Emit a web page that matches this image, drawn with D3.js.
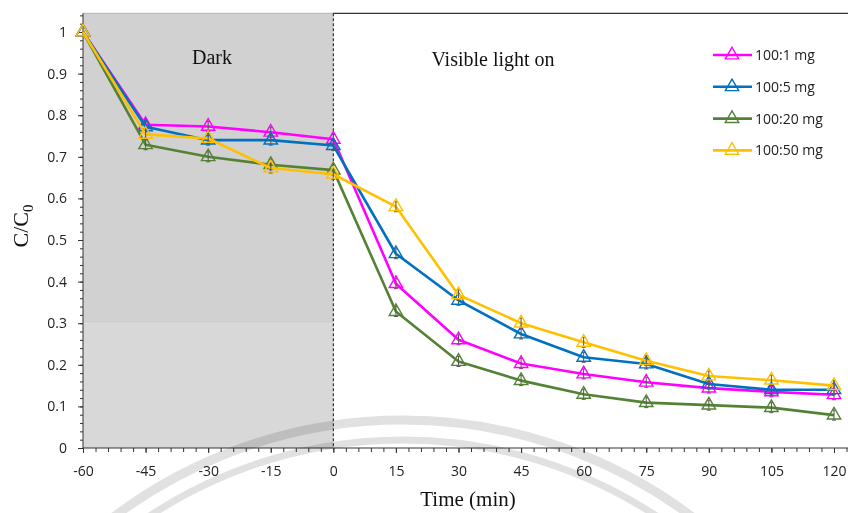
<!DOCTYPE html>
<html>
<head>
<meta charset="utf-8">
<title>C/C0 vs time</title>
<style>
	body { margin: 0; background: #fff; }
	svg { display: block; }
</style>
</head>
<body>
<script src="https://cdnjs.cloudflare.com/ajax/libs/d3/7.8.5/d3.min.js"></script>
<script>
// data
var times = [-60, -45, -30, -15, 0, 15, 30, 45, 60, 75, 90, 105, 120];
var seriesNames = ["100:1 mg", "100:5 mg", "100:20 mg", "100:50 mg"];
var seriesColors = ["#ff00ff", "#0070c0", "#548235", "#ffc000"];
var ratio1 = [1, 0.777, 0.773, 0.759, 0.742, 0.395, 0.260, 0.203, 0.178, 0.158, 0.144, 0.135, 0.128];
var ratio5 = [1, 0.772, 0.740, 0.740, 0.727, 0.467, 0.355, 0.274, 0.218, 0.202, 0.154, 0.140, 0.140];
var ratio20 = [1, 0.729, 0.700, 0.681, 0.668, 0.328, 0.208, 0.162, 0.129, 0.109, 0.103, 0.097, 0.079];
var ratio50 = [1, 0.754, 0.744, 0.673, 0.658, 0.580, 0.368, 0.300, 0.254, 0.210, 0.173, 0.163, 0.150];
var errBars = [0, 0.012, 0.012, 0.012, 0.012, 0.012, 0.012, 0.012, 0.012, 0.012, 0.012, 0.012, 0.012];
var xTicks = [-60, -45, -30, -15, 0, 15, 30, 45, 60, 75, 90, 105, 120];
var yTicks = [0, 0.1, 0.2, 0.3, 0.4, 0.5, 0.6, 0.7, 0.8, 0.9, 1];

var allSeries = [ratio1, ratio5, ratio20, ratio50];

var W = 848, H = 513;
var svg = d3.select("body").append("svg")
	.attr("width", W)
	.attr("height", H);

var x = d3.scaleLinear().domain([-60, 120]).range([83, 834]);
var y = d3.scaleLinear().domain([0, 1]).range([448, 32]);
var plotTop = y(1.045);
var plotBottom = y(0);

// dark period shading (scan makes the lower part slightly lighter)
svg.append("rect")
	.attr("x", x(-60)).attr("y", plotTop)
	.attr("width", x(0) - x(-60)).attr("height", y(0.3) - plotTop)
	.style("fill", "#d1d1d1");
svg.append("rect")
	.attr("x", x(-60)).attr("y", y(0.3))
	.attr("width", x(0) - x(-60)).attr("height", plotBottom - y(0.3))
	.style("fill", "#d8d8d8");

// top border
svg.append("line")
	.attr("x1", x(-60)).attr("x2", x(0))
	.attr("y1", plotTop).attr("y2", plotTop)
	.style("stroke", "#bcbcbc").style("stroke-width", "1.2px");
svg.append("line")
	.attr("x1", x(0)).attr("x2", W)
	.attr("y1", plotTop).attr("y2", plotTop)
	.style("stroke", "#333").style("stroke-width", "1.2px");

// y axis
var yMinor = svg.append("g")
	.attr("transform", "translate(" + x(-60) + ",0)")
	.call(d3.axisLeft(y).tickValues(d3.range(0, 1.041, 0.02)).tickSize(3).tickFormat(""));
var yAxis = svg.append("g")
	.attr("transform", "translate(" + x(-60) + ",0)")
	.call(d3.axisLeft(y).tickValues(yTicks).tickSize(5).tickPadding(11)
		.tickFormat(function(d){ return String(+d.toFixed(1)); }));

// x axis
var xMinor = svg.append("g")
	.attr("transform", "translate(0," + plotBottom + ")")
	.call(d3.axisBottom(x).tickValues(d3.range(-60, 124, 3)).tickSize(4).tickFormat(""));
var xAxis = svg.append("g")
	.attr("transform", "translate(0," + plotBottom + ")")
	.call(d3.axisBottom(x).tickValues(xTicks).tickSize(5).tickPadding(13)
		.tickFormat(function(d){ return String(d); }));

[yMinor, yAxis, xMinor, xAxis].forEach(function(g){
	g.select(".domain").remove();
	g.selectAll(".tick line").style("stroke", "#333");
	g.selectAll("text")
		.style("font-family", "'Open Sans', sans-serif")
		.style("font-size", "14px")
		.style("fill", "#222");
});

svg.append("line")
	.attr("x1", x(-60)).attr("x2", x(-60))
	.attr("y1", plotTop).attr("y2", plotBottom)
	.style("stroke", "#333").style("stroke-width", "1px");
svg.append("line")
	.attr("x1", x(-60)).attr("x2", W)
	.attr("y1", plotBottom).attr("y2", plotBottom)
	.style("stroke", "#333").style("stroke-width", "1px");

// light-on marker
svg.append("line")
	.attr("x1", x(0)).attr("x2", x(0))
	.attr("y1", plotTop).attr("y2", plotBottom)
	.style("stroke", "#111").style("stroke-width", "1px")
	.style("stroke-dasharray", "3,2");

// series
var line = d3.line()
	.x(function(d, i){ return x(times[i]); })
	.y(function(d){ return y(d); });
var tri = d3.symbol().type(d3.symbolTriangle).size(78);

allSeries.forEach(function(vals, s){
	var col = seriesColors[s];
	var g = svg.append("g");
	g.append("path")
		.attr("d", line(vals))
		.style("fill", "none")
		.style("stroke", col)
		.style("stroke-width", "2.6px")
		.style("stroke-linejoin", "round");
	var pts = g.selectAll(".pt").data(vals).enter().append("g")
		.attr("transform", function(d, i){ return "translate(" + x(times[i]) + "," + y(d) + ")"; });
	// error bars
	pts.append("path")
		.attr("d", function(d, i){
			var e = y(d - errBars[i]) - y(d);
			if (!e) return null;
			return "M-2," + (-e) + "H2M0," + (-e) + "V" + e + "M-2," + e + "H2";
		})
		.style("fill", "none")
		.style("stroke", "#555")
		.style("stroke-width", "1px");
	pts.append("path")
		.attr("d", tri)
		.style("fill", "none")
		.style("stroke", col)
		.style("stroke-width", "1.4px");
});

// legend
var legend = svg.append("g");
seriesNames.forEach(function(name, s){
	var ly = 55 + s * 31.8;
	legend.append("line")
		.attr("x1", 713).attr("x2", 752)
		.attr("y1", ly).attr("y2", ly)
		.style("stroke", seriesColors[s])
		.style("stroke-width", "2.6px");
	legend.append("path")
		.attr("transform", "translate(732," + ly + ")")
		.attr("d", tri)
		.style("fill", "none")
		.style("stroke", seriesColors[s])
		.style("stroke-width", "1.4px");
	legend.append("text")
		.attr("x", 755).attr("y", ly)
		.attr("dy", "0.35em")
		.text(name)
		.style("font-family", "'Open Sans', sans-serif")
		.style("font-size", "14px")
		.style("fill", "#222");
});

// annotations
svg.append("text")
	.attr("x", 212).attr("y", 64)
	.attr("text-anchor", "middle")
	.text("Dark")
	.style("font-family", "'Liberation Serif', serif")
	.style("font-size", "20px")
	.style("fill", "#111");
svg.append("text")
	.attr("x", 493).attr("y", 66)
	.attr("text-anchor", "middle")
	.text("Visible light on")
	.style("font-family", "'Liberation Serif', serif")
	.style("font-size", "20px")
	.style("fill", "#111");

// axis titles
var yTitle = svg.append("text")
	.attr("transform", "translate(28,226) rotate(-90)")
	.attr("text-anchor", "middle")
	.style("font-family", "'Liberation Serif', serif")
	.style("font-size", "22px")
	.style("fill", "#111");
yTitle.append("tspan").text("C/C");
yTitle.append("tspan").attr("dy", "0.3em").style("font-size", "15px").text("0");

svg.append("text")
	.attr("x", 468).attr("y", 506)
	.attr("text-anchor", "middle")
	.text("Time (min)")
	.style("font-family", "'Liberation Serif', serif")
	.style("font-size", "21px")
	.style("fill", "#111");

// faint watermark arcs from the scanned page
var wm = svg.append("g").style("mix-blend-mode", "multiply");
[[480, 9], [460, 7]].forEach(function(a){
	wm.append("circle")
		.attr("cx", 403).attr("cy", 900)
		.attr("r", a[0])
		.style("fill", "none")
		.style("stroke", "#e1e1e1")
		.style("stroke-width", a[1] + "px");
});
</script>
</body>
</html>
